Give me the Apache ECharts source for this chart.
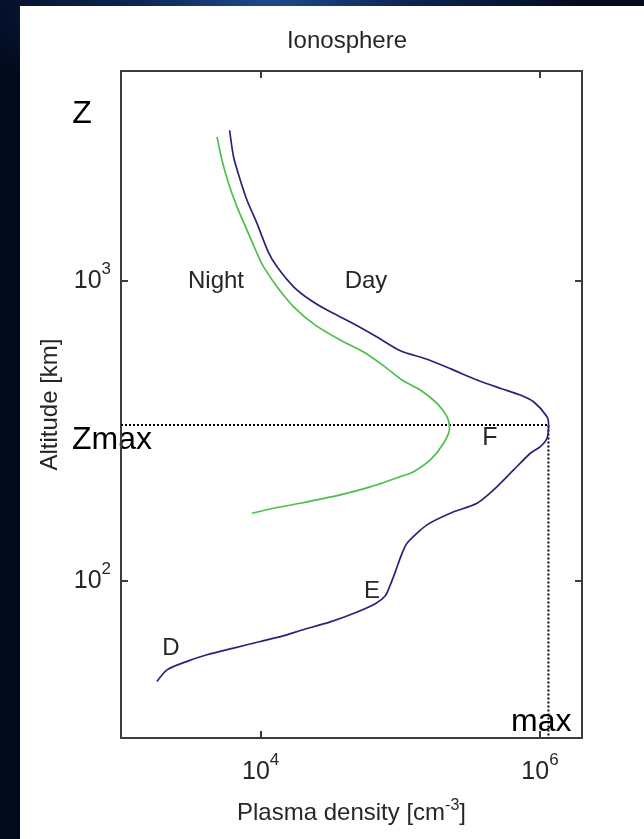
<!DOCTYPE html>
<html>
<head>
<meta charset="utf-8">
<script src="https://cdn.jsdelivr.net/npm/echarts@6/dist/echarts.min.js"></script>
<style>
html,body{margin:0;padding:0;width:644px;height:839px;overflow:hidden;}
body{background:#020a1c;background-image:radial-gradient(ellipse 320px 120px at 270px 0px,#1d4a8c 0%,#0c2350 45%,#020a1c 100%);}
#panel{position:absolute;left:20px;top:6px;right:0;bottom:0;background:#ffffff;}
#chart{position:absolute;left:0;top:0;width:644px;height:839px;}
</style>
</head>
<body>
<div id="panel"></div>
<div id="chart"></div>
<script>
// ---- data ----
const dayDensity = [1810, 2135, 2970, 4128, 6401, 9943, 15440, 19220, 31530, 47630, 66220, 78080, 84800, 92100, 100000, 111700, 155300, 228000, 354200, 465800, 647700, 853100, 1006000, 1123000, 1153000, 1123000, 900500, 723400, 520100, 354200, 228000, 155300, 100000, 66220, 43850, 29870, 22670, 17220, 13100, 11350, 9417, 7986, 7150, 6401, 5995];
const dayAltitude = [46.3, 50.6, 54.0, 56.8, 59.8, 62.9, 66.2, 68.4, 73.1, 78.4, 84.0, 89.3, 97.1, 107.3, 119.5, 133.7, 153.8, 168.2, 181.6, 201.2, 234.4, 266.5, 280.3, 298.9, 331.1, 352.7, 395.6, 416.6, 438.5, 467.3, 510.0, 548.0, 585.0, 655.0, 728.8, 798.9, 862.8, 955.2, 1113, 1246, 1553, 1856, 2163, 2586, 3174];
const nightDensity = [4869, 5286, 5896, 6770, 7986, 9668, 10500, 13100, 17220, 24620, 37190, 56160, 78080, 102800, 139100, 183200, 216000, 225400, 204200, 163900, 124500, 100000, 61000, 37190, 19220, 12380, 8670];
const nightAltitude = [3015, 2522, 2110, 1763, 1475, 1202, 1113, 955.2, 819.5, 712.2, 634.9, 574.6, 516.1, 467.3, 432.9, 390.8, 352.7, 322.8, 287.7, 253.2, 231.4, 222.7, 205.8, 193.6, 181.6, 174.8, 168.2];
const peakDensity = 1150000;
const peakAltitude = 331;
const xRange = [1000, 2000000];
const yRange = [30, 5000];
const xTicks = [10000, 1000000];
const yTicks = [100, 1000];
const titleText = 'Ionosphere';
const xName = 'Plasma density [cm';
const xNameSup = '-3';
const yName = 'Altitude [km]';

// ---- build ----
const pair = (xs, ys) => xs.map((x, i) => [x, ys[i]]);
const FONT = '"Liberation Sans", Arial, sans-serif';
const TXT = '#262626';
const AX = '#3c3c3c';
const powLabel = v => '{b|10}{s|' + Math.round(Math.log10(v)) + '}';
const richPow = {
  b: {fontSize: 25, fontFamily: FONT, color: TXT, lineHeight: 40},
  s: {fontSize: 17, fontFamily: FONT, color: TXT, lineHeight: 14, verticalAlign: 'top'}
};

const chart = echarts.init(document.getElementById('chart'), null, {renderer: 'canvas'});
const baseAxis = {
  type: 'log', logBase: 10,
  axisLine: {show: true, onZero: false, lineStyle: {color: AX, width: 2}},
  splitLine: {show: false},
  minorTick: {show: false}
};
chart.setOption({
  animation: false,
  backgroundColor: 'transparent',
  title: {
    text: titleText, left: 342, top: 24, textAlign: 'center',
    textStyle: {fontFamily: FONT, fontSize: 24, fontWeight: 'normal', color: TXT}
  },
  grid: {left: 121, top: 71, width: 461, height: 667, containLabel: false},
  xAxis: [
    Object.assign({}, baseAxis, {
      position: 'bottom', min: xRange[0], max: xRange[1],
      name: '{b|' + xName + '}{s|' + xNameSup + '}{b|]}', nameLocation: 'middle', nameGap: 60,
      nameTextStyle: {rich: {
        b: {fontSize: 24, fontFamily: FONT, color: TXT, lineHeight: 30},
        s: {fontSize: 16, fontFamily: FONT, color: TXT, lineHeight: 14, verticalAlign: 'top'}
      }},
      axisTick: {show: true, inside: true, length: 7, customValues: xTicks, lineStyle: {color: AX, width: 2}},
      axisLabel: {show: true, margin: 14, customValues: xTicks, formatter: powLabel, rich: richPow}
    }),
    Object.assign({}, baseAxis, {
      position: 'top', min: xRange[0], max: xRange[1],
      axisTick: {show: true, inside: true, length: 7, customValues: xTicks, lineStyle: {color: AX, width: 2}},
      axisLabel: {show: false}
    })
  ],
  yAxis: [
    Object.assign({}, baseAxis, {
      position: 'left', min: yRange[0], max: yRange[1],
      name: yName, nameLocation: 'middle', nameGap: 58,
      nameTextStyle: {fontSize: 24, fontFamily: FONT, color: TXT},
      axisTick: {show: true, inside: true, length: 7, customValues: yTicks, lineStyle: {color: AX, width: 2}},
      axisLabel: {show: true, margin: 10, customValues: yTicks, formatter: powLabel, rich: richPow}
    }),
    Object.assign({}, baseAxis, {
      position: 'right', min: yRange[0], max: yRange[1],
      axisTick: {show: true, inside: true, length: 7, customValues: yTicks, lineStyle: {color: AX, width: 2}},
      axisLabel: {show: false}
    })
  ],
  series: [
    {
      name: 'Day', type: 'line', xAxisIndex: 0, yAxisIndex: 0,
      data: pair(dayDensity, dayAltitude), showSymbol: false, smooth: 0.25,
      lineStyle: {color: '#25257a', width: 1.7}
    },
    {
      name: 'Night', type: 'line', xAxisIndex: 0, yAxisIndex: 0,
      data: pair(nightDensity, nightAltitude), showSymbol: false, smooth: 0.25,
      lineStyle: {color: '#4cbf4c', width: 1.7}
    },
    {
      name: 'Zmax guide', type: 'line', xAxisIndex: 0, yAxisIndex: 0,
      data: [[xRange[0], peakAltitude], [peakDensity, peakAltitude], [peakDensity, yRange[0]]],
      showSymbol: false, clip: false,
      lineStyle: {color: '#000', width: 2, type: [2, 2]}, z: 1
    }
  ],
  graphic: [
    {type: 'text', x: 82, y: 114, style: {text: 'Z', fontSize: 32, fontFamily: FONT, fill: '#000', align: 'center', verticalAlign: 'middle', textAlign: 'center', textVerticalAlign: 'middle'}},
    {type: 'text', x: 72, y: 440, style: {text: 'Zmax', fontSize: 32, fontFamily: FONT, fill: '#000', align: 'left', verticalAlign: 'middle', textAlign: 'left', textVerticalAlign: 'middle'}},
    {type: 'text', x: 511, y: 722, style: {text: 'max', fontSize: 32, fontFamily: FONT, fill: '#000', align: 'left', verticalAlign: 'middle', textAlign: 'left', textVerticalAlign: 'middle'}},
    {type: 'text', x: 216, y: 281, style: {text: 'Night', fontSize: 24, fontFamily: FONT, fill: TXT, align: 'center', verticalAlign: 'middle', textAlign: 'center', textVerticalAlign: 'middle'}},
    {type: 'text', x: 366, y: 281, style: {text: 'Day', fontSize: 24, fontFamily: FONT, fill: TXT, align: 'center', verticalAlign: 'middle', textAlign: 'center', textVerticalAlign: 'middle'}},
    {type: 'text', x: 490, y: 438, style: {text: 'F', fontSize: 25, fontFamily: FONT, fill: TXT, align: 'center', verticalAlign: 'middle', textAlign: 'center', textVerticalAlign: 'middle'}},
    {type: 'text', x: 372, y: 591, style: {text: 'E', fontSize: 24, fontFamily: FONT, fill: TXT, align: 'center', verticalAlign: 'middle', textAlign: 'center', textVerticalAlign: 'middle'}},
    {type: 'text', x: 171, y: 648, style: {text: 'D', fontSize: 24, fontFamily: FONT, fill: TXT, align: 'center', verticalAlign: 'middle', textAlign: 'center', textVerticalAlign: 'middle'}}
  ]
});
</script>
</body>
</html>
